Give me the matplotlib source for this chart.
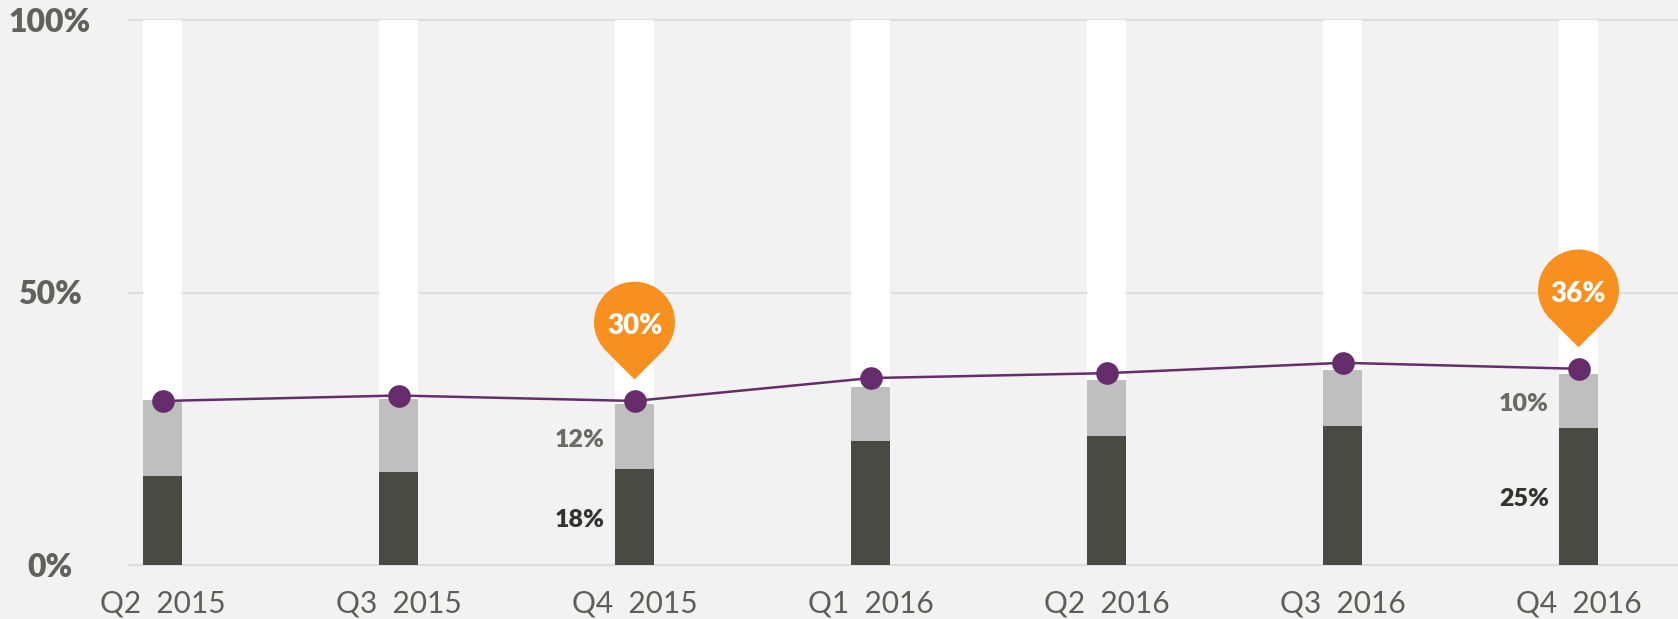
import matplotlib
matplotlib.use('Agg')
import matplotlib.pyplot as plt
from matplotlib.path import Path
from matplotlib.patches import PathPatch
import matplotlib.transforms as mtransforms
import numpy as np

# ---------------- data ----------------
quarters = ["Q2  2015", "Q3  2015", "Q4  2015", "Q1  2016", "Q2  2016", "Q3  2016", "Q4  2016"]
dark_share = [16.3, 17.1, 17.6, 22.8, 23.7, 25.5, 25.2]
grey_share = [14.0, 13.3, 11.9, 9.9, 10.2, 10.2, 9.8]
line_share = [30.1, 31.1, 30.1, 34.3, 35.2, 37.1, 36.0]
y_ticks = [0, 50, 100]
y_tick_labels = ["0%", "50%", "100%"]
dark_labels = {2: "18%", 6: "25%"}
grey_labels = {2: "12%", 6: "10%"}
callouts = {2: "30%", 6: "36%"}

# ---------------- style ----------------
BG = "#f2f2f2"
DARK = "#4a4a44"
GREY = "#bfbfbf"
PURPLE = "#652d6b"
ORANGE = "#f7901e"
GRID = "#dedede"
FONT = "Lato"

W, H = 1678, 619
fig = plt.figure(figsize=(W / 100, H / 100), dpi=100, facecolor=BG)
ax_left, ax_right = 128 / W, 1.0
ax_bottom, ax_top = (H - 577) / H, (H - 8) / H
ax = fig.add_axes([ax_left, ax_bottom, ax_right - ax_left, ax_top - ax_bottom])
ax.set_facecolor(BG)
for s in ax.spines.values():
    s.set_visible(False)

px_per_pct = 5.45
ax.set_ylim(-(577 - 565) / px_per_pct, 100 + (20 - 8) / px_per_pct)
bar_px = 236.0
ax.set_xlim(-(162.5 - 128) / bar_px, (1678 - 162.5) / bar_px)

x = np.arange(len(quarters))
bw = 39 / bar_px

# gridlines
for yt in y_ticks:
    ax.axhline(yt, color=GRID, lw=1.5, zorder=0)

# white background columns
ax.bar(x, [100] * len(x), width=bw, color="white", zorder=1, linewidth=0)
ax.bar(x, dark_share, width=bw, color=DARK, zorder=2, linewidth=0)
ax.bar(x, grey_share, width=bw, bottom=dark_share, color=GREY, zorder=2, linewidth=0)

# line
ax.plot(x, line_share, color=PURPLE, lw=1.8, marker="o", markersize=16.3,
        markerfacecolor=PURPLE, markeredgewidth=0, zorder=4)

# y labels (centered at x=50px)
trans_y = mtransforms.blended_transform_factory(fig.transFigure, ax.transData)
for yt, lab in zip(y_ticks, y_tick_labels):
    ax.text(50 / W, yt - 0.4, lab, transform=trans_y, ha="center", va="center",
            fontsize=23, fontweight="heavy", color="#62625c", family=FONT, clip_on=False)

# x labels
ax.set_xticks(x)
ax.set_xticklabels(quarters, fontsize=21.5, fontweight="normal", color="#5e5e59", family=FONT)
ax.tick_params(axis="x", length=0, pad=9)
ax.set_yticks([])

# segment labels
for i, lab in grey_labels.items():
    yc = dark_share[i] + grey_share[i] / 2
    ax.annotate(lab, xy=(x[i] - bw / 2, yc), xytext=(-10, -3), textcoords="offset pixels",
                ha="right", va="center", fontsize=18, fontweight="heavy", color="#6b6b66",
                family=FONT, zorder=5)
for i, lab in dark_labels.items():
    yc = dark_share[i] / 2
    ax.annotate(lab, xy=(x[i] - bw / 2, yc), xytext=(-10, -3), textcoords="offset pixels",
                ha="right", va="center", fontsize=18, fontweight="heavy", color="#333330",
                family=FONT, zorder=5)

# pin callouts
r = 40.5
tip_gap = 21.5
cy = tip_gap + r * np.sqrt(2)
arc = Path.arc(-45, 225)
arc_verts = arc.vertices * r + np.array([0, cy])
verts = np.vstack([[0, tip_gap], arc_verts, [0, tip_gap]])
codes = [Path.MOVETO, Path.LINETO] + list(arc.codes[1:]) + [Path.CLOSEPOLY]
pin = Path(verts, codes)

for i, lab in callouts.items():
    tr = mtransforms.ScaledTranslation(x[i], line_share[i], ax.transData)
    patch = PathPatch(pin, facecolor=ORANGE, edgecolor="none", transform=tr, zorder=6)
    ax.add_patch(patch)
    ax.annotate(lab, xy=(x[i], line_share[i]), xytext=(0, cy - 4), textcoords="offset pixels",
                ha="center", va="center", fontsize=20, fontweight="heavy", color="white",
                family=FONT, zorder=7)

fig.savefig("out.png", dpi=100, facecolor=BG)
